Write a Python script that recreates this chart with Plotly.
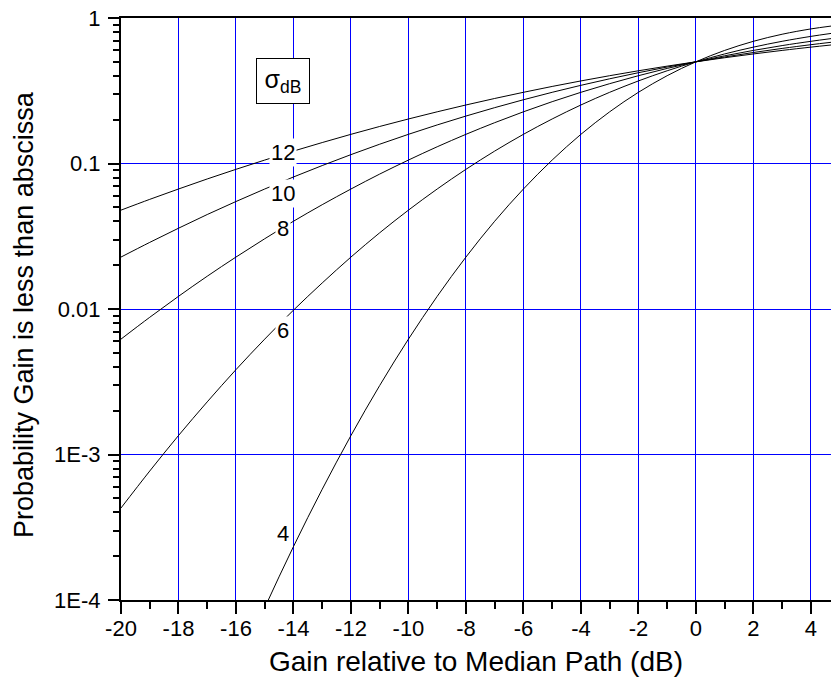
import math
import plotly.graph_objects as go

# Gain relative to median path (dB)
gain_db = [-20, -19, -18, -17, -16, -15, -14, -13, -12, -11, -10, -9, -8, -7,
           -6, -5, -4, -3, -2, -1, 0, 1, 2, 3, 4, 4.7]
gain_db_s4 = [-16, -15, -14, -13, -12, -11, -10, -9, -8, -7,
              -6, -5, -4, -3, -2, -1, 0, 1, 2, 3, 4, 4.7]

# Probability gain is less than abscissa, per sigma (dB)
p_s12 = [0.0478, 0.0567, 0.0668, 0.0783, 0.0912, 0.1056, 0.1217, 0.1393, 0.1587,
         0.1797, 0.2023, 0.2266, 0.2525, 0.2798, 0.3085, 0.3385, 0.3694, 0.4013,
         0.4338, 0.4668, 0.5, 0.5332, 0.5662, 0.5987, 0.6306, 0.6524]
p_s10 = [0.02275, 0.0287, 0.0359, 0.0446, 0.0548, 0.0668, 0.0808, 0.0968, 0.1151,
         0.1357, 0.1587, 0.1841, 0.2119, 0.2420, 0.2743, 0.3085, 0.3446, 0.3821,
         0.4207, 0.4602, 0.5, 0.5398, 0.5793, 0.6179, 0.6554, 0.6808]
p_s8 = [0.00621, 0.00877, 0.01222, 0.0168, 0.02275, 0.0304, 0.0401, 0.0521, 0.0668,
        0.0846, 0.1056, 0.1303, 0.1587, 0.1908, 0.2266, 0.2660, 0.3085, 0.3538,
        0.4013, 0.4503, 0.5, 0.5497, 0.5987, 0.6462, 0.6915, 0.7216]
p_s6 = [0.000429, 0.00077, 0.00135, 0.00230, 0.00383, 0.00621, 0.00982, 0.0151,
        0.02275, 0.0334, 0.0478, 0.0668, 0.0912, 0.1217, 0.1587, 0.2023, 0.2525,
        0.3085, 0.3694, 0.4338, 0.5, 0.5662, 0.6306, 0.6915, 0.7475, 0.7833]
p_s4 = [0.0000317, 0.0000884, 0.000233, 0.000577, 0.00135, 0.00298, 0.00621,
        0.01222, 0.02275, 0.0401, 0.0668, 0.1056, 0.1587, 0.2266, 0.3085, 0.4013,
        0.5, 0.5987, 0.6915, 0.7734, 0.8413, 0.880]

curve_labels = ["12", "10", "8", "6", "4"]
label_x = [-14.37, -14.37, -14.37, -14.37, -14.37]
label_y = [0.119, 0.0625, 0.0357, 0.0071, 0.000285]
sigma_box_x = -14.37
sigma_box_y = 0.37

y_tickvals = [1e-4, 1e-3, 1e-2, 1e-1, 1]
y_ticktext = ["1E-4", "1E-3", "0.01", "0.1", "1"]
y_minor = [m * 10 ** e for e in range(-4, 0) for m in range(2, 10)]
x_tickvals = list(range(-20, 5, 2))
x_ticktext = [str(v) for v in x_tickvals]
x_minor = list(range(-19, 5, 2))

FONT = "Liberation Sans, Arial, sans-serif"

fig = go.Figure()
for xs, ys in [(gain_db, p_s12), (gain_db, p_s10), (gain_db, p_s8),
               (gain_db, p_s6), (gain_db_s4, p_s4)]:
    fig.add_trace(go.Scatter(x=xs, y=ys, mode="lines",
                             line=dict(color="black", width=1, shape="spline"),
                             showlegend=False, hoverinfo="skip"))

for t, lx, ly in zip(curve_labels, label_x, label_y):
    fig.add_annotation(x=lx, y=math.log10(ly), yref="y", xref="x", text=t,
                       showarrow=False,
                       font=dict(family=FONT, size=22, color="black"),
                       bgcolor="white", borderpad=1)

fig.add_annotation(x=sigma_box_x, y=math.log10(sigma_box_y), text="σ<sub>dB</sub>",
                   showarrow=False,
                   font=dict(family=FONT, size=25, color="black"),
                   bgcolor="white", bordercolor="black", borderwidth=1,
                   width=52, height=44, borderpad=0)

# y-axis title placed as a rotated annotation left of the tick labels
fig.add_annotation(xref="paper", yref="paper", x=0, y=0.5, xanchor="center",
                   yanchor="middle", xshift=-97, yshift=-6, textangle=-90,
                   text="Probability Gain is less than abscissa", showarrow=False,
                   font=dict(family=FONT, size=27, color="black"))

axis_font = dict(family=FONT, size=22, color="black")
fig.update_xaxes(range=[-20, 4.7], tickmode="array", tickvals=x_tickvals,
                 ticktext=x_ticktext,
                 ticks="outside", ticklen=12, tickwidth=2, tickcolor="black",
                 ticklabelstandoff=-4,
                 showline=True, linecolor="black", linewidth=2, mirror=True,
                 showgrid=True, gridcolor="#0000ff", gridwidth=1, zeroline=False,
                 tickfont=axis_font,
                 minor=dict(tickmode="array", tickvals=x_minor, ticks="outside",
                            ticklen=7, tickwidth=2, tickcolor="black", showgrid=False),
                 title=dict(text="Gain relative to Median Path (dB)",
                            font=dict(family=FONT, size=28, color="black"),
                            standoff=11))
fig.update_yaxes(type="log", range=[-4, 0], tickmode="array", tickvals=y_tickvals,
                 ticktext=y_ticktext, ticks="outside", ticklen=11, tickwidth=2,
                 ticklabelstandoff=3,
                 tickcolor="black", showline=True, linecolor="black", linewidth=2,
                 showgrid=True, gridcolor="#0000ff", gridwidth=1, zeroline=False,
                 tickfont=axis_font,
                 minor=dict(tickmode="array", tickvals=y_minor, ticks="outside",
                            ticklen=6, tickwidth=2, tickcolor="black", showgrid=False))

fig.update_layout(width=831, height=681, plot_bgcolor="white", paper_bgcolor="white",
                  margin=dict(l=121, r=0, t=18, b=81), showlegend=False)

fig.write_html("out.html")
